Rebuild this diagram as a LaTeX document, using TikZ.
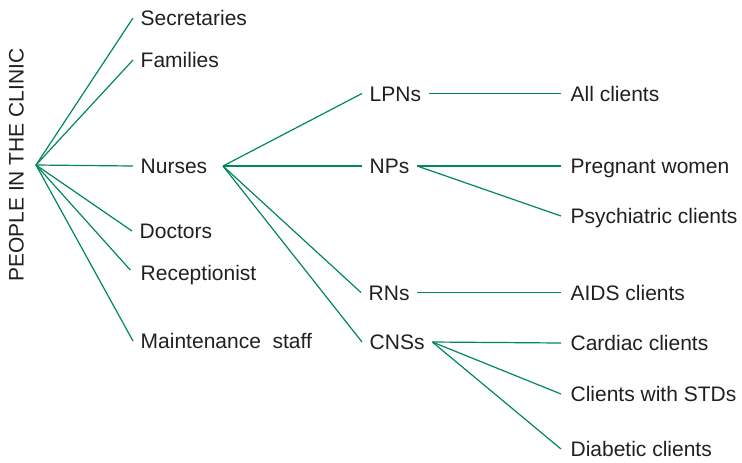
\documentclass[tikz,border=0pt]{standalone}
\usepackage{fontspec}
\setmainfont{Liberation Sans}
\definecolor{linegreen}{RGB}{0,135,90}
\definecolor{inkgray}{RGB}{35,31,32}

\begin{document}
\begin{tikzpicture}[x=0.75pt,y=0.75pt,yscale=-1,xscale=1,
  lbl/.style={anchor=west,inner xsep=5.6pt,inner ysep=0pt,text height=11.3pt,text depth=0pt,font=\fontsize{15.75}{18}\selectfont,text=inkgray},
  lbl far/.style={lbl,inner xsep=7pt},
  branch/.style={draw=linegreen,line width=0.9pt}]
\useasboundingbox (0,0) rectangle (742,462);

% Title
\node [rotate=90,inner sep=0pt,font=\fontsize{15.75}{18}\selectfont,text=inkgray] (title) at (16.5,165) {PEOPLE IN THE CLINIC};
\coordinate (root) at (36,165);

% Text Node
\node [lbl] (sec) at (133,18) {Secretaries};
\node [lbl] (fam) at (133,60) {Families};
\node [lbl] (nurses) at (133,166) {Nurses};
\node [lbl] (doc) at (132,231) {Doctors};
\node [lbl] (rec) at (133,273) {Receptionist};
\node [lbl] (maint) at (133,341) {Maintenance\ \ staff};

% Text Node
\node [lbl] (lpn) at (362,93.5) {LPNs};
\node [lbl] (np) at (362,166) {NPs};
\node [lbl] (rn) at (361,292.5) {RNs};
\node [lbl] (cns) at (362,342) {CNSs};

% Text Node
\node [lbl far] (all) at (561,93.5) {All clients};
\node [lbl far] (preg) at (561,166) {Pregnant women};
\node [lbl far] (psy) at (561,216) {Psychiatric clients};
\node [lbl far] (aids) at (561,292.5) {AIDS clients};
\node [lbl far] (card) at (561,343) {Cardiac clients};
\node [lbl far] (std) at (561,394) {Clients with STDs};
\node [lbl far] (diab) at (561,449) {Diabetic clients};

% Straight Lines
\foreach \n in {sec,fam,nurses,doc,maint}
  \draw [branch] (root) -- (\n.west);
\draw [branch,shorten >=3pt] (root) -- (rec.west);
\foreach \n in {lpn,np,rn,cns}
  \draw [branch] ([xshift=6pt]nurses.east) -- (\n.west);
\draw [branch] (lpn.east) -- (all.west);
\draw [branch] (np.east) -- (preg.west);
\draw [branch] (np.east) -- (psy.west);
\draw [branch] (rn.east) -- (aids.west);
\foreach \n in {card,std,diab}
  \draw [branch] (cns.east) -- (\n.west);

\end{tikzpicture}
\end{document}
